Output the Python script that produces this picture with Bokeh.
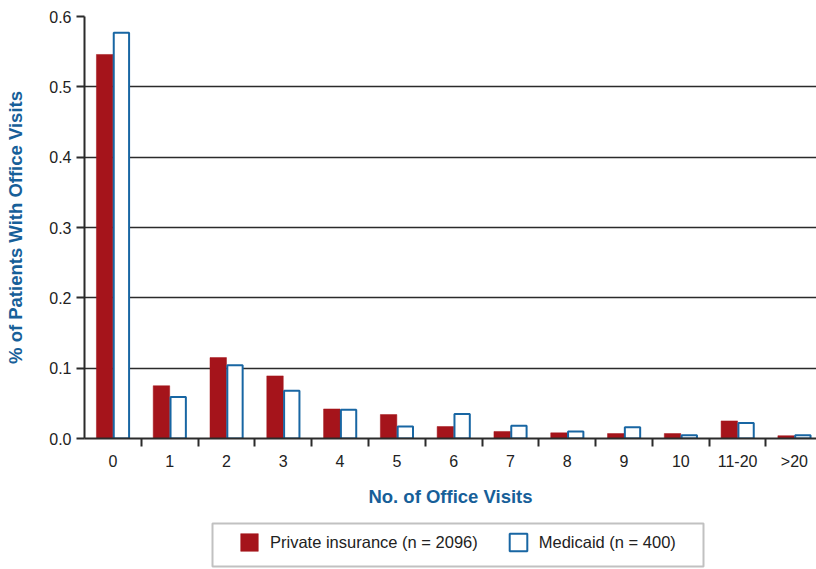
from bokeh.plotting import figure
from bokeh.layouts import column
from bokeh.models import (ColumnDataSource, Range1d, FixedTicker, Legend, LegendItem,
                          PrintfTickFormatter, BoxAnnotation)
from bokeh.embed import file_html
from bokeh.resources import INLINE

categories = ["0", "1", "2", "3", "4", "5", "6", "7", "8", "9", "10", "11-20", ">20"]
private = [0.546, 0.075, 0.115, 0.089, 0.042, 0.034, 0.017, 0.010, 0.008, 0.007, 0.007, 0.025, 0.004]
medicaid = [0.577, 0.059, 0.104, 0.068, 0.041, 0.017, 0.035, 0.018, 0.010, 0.016, 0.0045, 0.022, 0.0047]
y_ticks = [0.0, 0.1, 0.2, 0.3, 0.4, 0.5, 0.6]
series_labels = ["Private insurance (n = 2096)", "Medicaid (n = 400)"]

RED = "#a5141b"
BLUE = "#1866a3"
TITLE_BLUE = "#175f99"
DARK = "#2b2b2b"

centers = [i + 0.5 for i in range(len(categories))]
src = ColumnDataSource(dict(
    xr=[c - 0.145 for c in centers],
    xb=[c + 0.15 for c in centers],
    private=private,
    medicaid=medicaid,
))

p = figure(width=816, height=509, output_backend="svg", toolbar_location=None,
           x_range=Range1d(0, 12.89), y_range=Range1d(0, 0.6),
           min_border_left=84, min_border_right=0, min_border_top=16, min_border_bottom=70)
p.outline_line_color = None
p.background_fill_color = "white"

r1 = p.vbar(x="xr", top="private", width=0.29, source=src, fill_color=RED, line_color=RED, line_width=0.5)
r2 = p.vbar(x="xb", top="medicaid", width=0.27, source=src, fill_color="white", line_color=BLUE, line_width=2)

# x axis
xa = p.xaxis[0]
xa.ticker = FixedTicker(ticks=centers, minor_ticks=list(range(1, len(categories))))
xa.major_label_overrides = {c: lab for c, lab in zip(centers, categories)}
xa.major_tick_line_color = None
xa.major_tick_out = 8
xa.major_tick_in = 0
xa.minor_tick_out = 8
xa.minor_tick_in = 0
xa.minor_tick_line_color = DARK
xa.minor_tick_line_width = 2
xa.axis_line_color = DARK
xa.axis_line_width = 2
xa.major_label_text_font = "Liberation Sans"
xa.major_label_text_font_size = "16px"
xa.major_label_text_color = "#222222"
xa.major_label_standoff = 6
xa.axis_label = "No. of Office Visits"
xa.axis_label_text_font = "Liberation Sans"
xa.axis_label_text_font_style = "bold"
xa.axis_label_text_font_size = "18.5px"
xa.axis_label_text_color = TITLE_BLUE
xa.axis_label_standoff = 13

# y axis
ya = p.yaxis[0]
ya.ticker = FixedTicker(ticks=y_ticks, minor_ticks=[])
ya.formatter = PrintfTickFormatter(format="%.1f")
ya.major_tick_out = 8
ya.major_tick_in = 0
ya.major_tick_line_color = DARK
ya.major_tick_line_width = 2
ya.minor_tick_line_color = None
ya.axis_line_color = DARK
ya.axis_line_width = 2
ya.major_label_text_font = "Liberation Sans"
ya.major_label_text_font_size = "16px"
ya.major_label_text_color = "#222222"
ya.major_label_standoff = 5
ya.axis_label = "% of Patients With Office Visits"
ya.axis_label_text_font = "Liberation Sans"
ya.axis_label_text_font_style = "bold"
ya.axis_label_text_font_size = "18.5px"
ya.axis_label_text_color = TITLE_BLUE
ya.axis_label_standoff = 20

p.xgrid.grid_line_color = None
p.ygrid.ticker = FixedTicker(ticks=y_ticks)
p.ygrid.grid_line_color = DARK
p.ygrid.grid_line_width = 1.5

# legend strip below the chart (legend-only renderers are hidden)
p2 = figure(width=816, height=60, output_backend="svg", toolbar_location=None,
            x_range=Range1d(0, 12.89), y_range=Range1d(5, 6),
            x_axis_type=None, y_axis_type=None,
            min_border_left=0, min_border_right=0, min_border_top=0, min_border_bottom=0)
p2.outline_line_color = None
l1 = p2.vbar(x="xr", top="private", width=0.29, source=src,
             fill_color=RED, line_color=RED, line_width=0.5)
l2 = p2.vbar(x="xb", top="medicaid", width=0.27, source=src,
             fill_color="white", line_color=BLUE, line_width=2)
l1.visible = False
l2.visible = False

p2.add_layout(BoxAnnotation(left=128, right=619, top=46, bottom=3,
                            left_units="screen", right_units="screen",
                            top_units="screen", bottom_units="screen",
                            fill_color=None, line_color="#333333", line_width=2))

legend = Legend(items=[
    LegendItem(label=series_labels[0], renderers=[l1]),
    LegendItem(label=series_labels[1], renderers=[l2]),
], orientation="horizontal", location=(154, 16))
legend.glyph_width = 22
legend.glyph_height = 22
legend.label_text_font = "Liberation Sans"
legend.label_text_font_size = "16.5px"
legend.label_text_color = "#222222"
legend.label_standoff = 10
legend.spacing = 29
legend.padding = 0
legend.margin = 0
legend.border_line_color = None
legend.background_fill_color = None
legend.inactive_fill_alpha = 0
p2.add_layout(legend, "center")

open("out.html", "w").write(file_html(column(p, p2, spacing=0), INLINE))
